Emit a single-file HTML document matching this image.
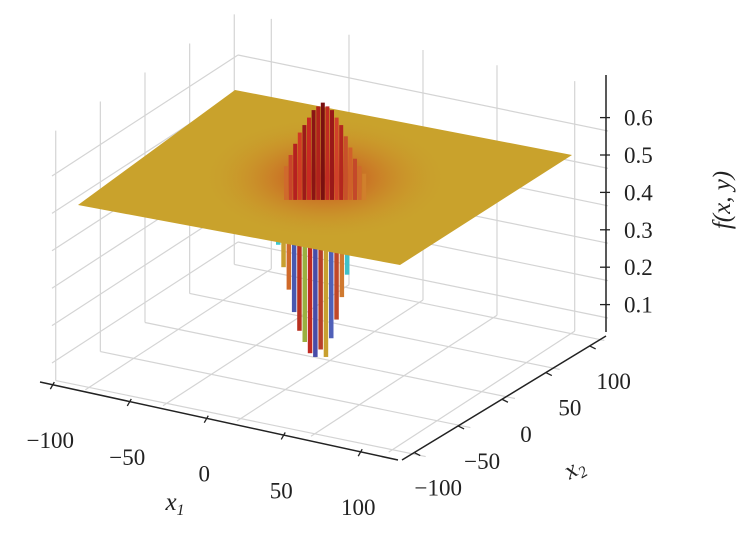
<!DOCTYPE html>
<html><head><meta charset="utf-8"><style>
body{margin:0;background:#fff}
svg text{font-family:"Liberation Serif",serif;fill:#222}
</style></head><body>
<svg id="c" width="756" height="533" viewBox="0 0 756 533">
<g id="grid"></g>
<g id="down"></g>
<polygon points="78,205 235,90 572,155 400,265" fill="#c9a22c"/>
<defs><radialGradient id="rg" cx="0.5" cy="0.5" r="0.5">
<stop offset="0" stop-color="#c0301e" stop-opacity="0.85"/><stop offset="0.45" stop-color="#cc6a24" stop-opacity="0.55"/><stop offset="1" stop-color="#c9a22c" stop-opacity="0"/></radialGradient></defs>
<ellipse cx="325" cy="178" rx="125" ry="62" fill="url(#rg)"/>
<g id="up"></g>
<g id="axes"></g>
<text x="730" y="200" font-size="25" font-style="italic" text-anchor="middle" transform="rotate(-90 730 200)">f(x, y)</text>
<text x="175" y="510" font-size="25" font-style="italic" text-anchor="middle">x<tspan font-size="16" dy="5">1</tspan></text>
<text x="578" y="475" font-size="25" font-style="italic" text-anchor="middle" transform="rotate(-30 578 475)">x<tspan font-size="16" dy="5">2</tspan></text>
</svg>
<script>
const zTicks=[0.1,0.2,0.3,0.4,0.5,0.6];
const x1Ticks=["−100","−50","0","50","100"];
const x2Ticks=["−100","−50","0","50","100"];
const upValues=[0.47,0.50,0.53,0.56,0.58,0.60,0.62,0.63,0.64,0.63,0.62,0.60,0.58,0.55,0.52,0.49,0.47,0.45];
const downValues=[0.26,0.20,0.14,0.08,0.03,0.00,-0.03,-0.04,-0.02,-0.04,0.01,0.06,0.12,0.18,0.24,0.29];
const upColors=["#cf6a2c","#c8442a","#b52020","#d03a24","#9c1a1a","#c82a22","#8b1414","#b0221c","#7a1010","#c02a22","#9a1818","#d0402a","#b4261e","#c8502a","#d0602a","#c4482a","#cf6a2c","#d0802c"];
const downColors=["#3cc8d0","#c8a030","#d06a2a","#4858b0","#b83020","#9ab040","#c02a22","#484ca8","#b8402a","#c8a030","#5060b8","#c04828","#d07a30","#40c0c8","#58c8d0","#3cc8d0"];
const NS="http://www.w3.org/2000/svg";
function mk(t,a,p){const e=document.createElementNS(NS,t);for(const k in a)e.setAttribute(k,a[k]);p.appendChild(e);return e;}
function zY(z){return 155-(z-0.5)*374;}
function zYBack(z){return 55+(0.6-z)*374;}
const B=[238,262],L=[52,383],F=[398,460],R=[608,338];
const TOP=12;
const grid=document.getElementById('grid');
const gs={stroke:"#d4d4d4","stroke-width":1.2,fill:"none"};
const frac=[0.02,0.26,0.5,0.74,0.98];
frac.forEach(f=>{
 const x=L[0]+(B[0]-L[0])*f,y=L[1]+(B[1]-L[1])*f;
 const l=mk('line',Object.assign({x1:x,y1:y,x2:x,y2:y-(B[1]-TOP)},gs),grid);
 
});
const frac2=[0.09,0.3,0.5,0.7,0.91];
frac2.forEach(f=>{
 const x=B[0]+(R[0]-B[0])*f,y=B[1]+(R[1]-B[1])*f;
 const l=mk('line',Object.assign({x1:x,y1:y,x2:x,y2:y-(B[1]-TOP)},gs),grid);
 
 const l2=mk('line',Object.assign({x1:x,y1:y,x2:x+(L[0]-B[0]),y2:y+(L[1]-B[1])},gs),grid);
 
});
frac.forEach(f=>{
 const x=L[0]+(B[0]-L[0])*f,y=L[1]+(B[1]-L[1])*f;
 const l=mk('line',Object.assign({x1:x,y1:y,x2:x+(R[0]-B[0]),y2:y+(R[1]-B[1])},gs),grid);
 
});
zTicks.forEach(z=>{
 const yb=zYBack(z);
 const a=mk('line',Object.assign({x1:B[0],y1:yb,x2:B[0]+(L[0]-B[0]),y2:yb+(L[1]-B[1])},gs),grid);
 
 const b=mk('line',Object.assign({x1:B[0],y1:yb,x2:R[0],y2:yb+(R[1]-B[1])},gs),grid);
 
});
const ax=document.getElementById('axes');
let e=mk('line',{x1:40,y1:382,x2:398,y2:460,stroke:"#222","stroke-width":1.5},ax);

e=mk('line',{x1:402,y1:460,x2:606,y2:336,stroke:"#222","stroke-width":1.5},ax);

e=mk('line',{x1:606,y1:75,x2:606,y2:332,stroke:"#222","stroke-width":1.5},ax);

zTicks.forEach(z=>{
 const y=zY(z);
 let t=mk('line',{x1:600,y1:y,x2:610,y2:y,stroke:"#222","stroke-width":1.3},ax);
 
 t=mk('text',{x:624,y:y+8,"font-size":23},ax);t.textContent=z.toFixed(1);
 
});
x1Ticks.forEach((s,i)=>{
 const f=0.04+i*0.215;
 const x=40+(358)*f,y=382+78*f;
 let t=mk('line',{x1:x,y1:y-3,x2:x-4,y2:y+4,stroke:"#222","stroke-width":1.3},ax);
 
 t=mk('text',{x:x-4,y:y+63,"font-size":23,"text-anchor":"middle"},ax);t.textContent=s;
 
});
x2Ticks.forEach((s,i)=>{
 const f=0.06+i*0.215;
 const x=402+204*f,y=460-124*f;
 let t=mk('line',{x1:x,y1:y,x2:x+6,y2:y+3,stroke:"#222","stroke-width":1.3},ax);
 
 t=mk('text',{x:x+24,y:y+43,"font-size":23,"text-anchor":"middle"},ax);t.textContent=s;
 
});
const up=document.getElementById('up'),dn=document.getElementById('down');
const baseY=zY(0.42);
downValues.forEach((v,i)=>{
 const x=276+i*5.3;
 const r=mk('rect',{x:x,y:baseY+40,width:4.5,height:Math.max(0,zY(v)-baseY-40),fill:downColors[i]},dn);
 
});
upValues.forEach((v,i)=>{
 const x=284+i*4.6;
 const r=mk('rect',{x:x,y:zY(v),width:4,height:baseY+15-zY(v),fill:upColors[i]},up);
 
});
</script>
</body></html>
